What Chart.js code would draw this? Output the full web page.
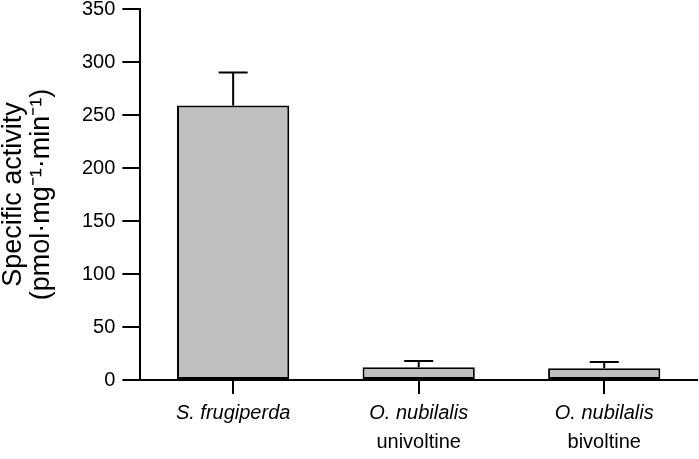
<!DOCTYPE html>
<html lang="en">
<head>
  <meta charset="UTF-8" />
  <title>Specific activity</title>
  <script src="https://cdn.jsdelivr.net/npm/chart.js"></script>
  <style>
    body { margin: 0; background: #fff; }
    #wrap { width: 699px; height: 459px; }
  </style>
</head>
<body>
  <div id="wrap"><canvas id="chart"></canvas></div>

  <script>
    // data
    const species = ['S. frugiperda', 'O. nubilalis', 'O. nubilalis'];
    const strains = ['', 'univoltine', 'bivoltine'];
    const activity = [259, 12, 11];
    const errorTop = [290, 18, 17];
    const yTicks = [0, 50, 100, 150, 200, 250, 300, 350];

    const FONT = '"Liberation Sans", Arial, sans-serif';

    // upper whiskers only, like the original
    const errorBars = {
      id: 'errorBars',
      afterDatasetsDraw(chart) {
        const c = chart.ctx;
        const y = chart.scales.y;
        const meta = chart.getDatasetMeta(0);
        c.save();
        c.strokeStyle = '#000';
        c.lineWidth = 2;
        meta.data.forEach((bar, i) => {
          const top = y.getPixelForValue(errorTop[i]);
          c.beginPath();
          c.moveTo(bar.x, bar.y);
          c.lineTo(bar.x, top);
          c.moveTo(bar.x - 14.5, top);
          c.lineTo(bar.x + 14.5, top);
          c.stroke();
        });
        c.restore();
      }
    };

    const ctx = document.getElementById('chart').getContext('2d');
    const chart = new Chart(ctx, {
      type: 'bar',
      data: {
        labels: species,
        datasets: [{
          data: activity,
          backgroundColor: '#c0c0c0',
          borderColor: '#000',
          borderWidth: 2,
          borderSkipped: false,
          barPercentage: 0.605,
          categoryPercentage: 1
        }]
      },
      plugins: [errorBars],
      options: {
        responsive: true,
        maintainAspectRatio: false,
        animation: false,
        layout: { padding: { top: 9, right: 2, bottom: 4, left: 0 } },
        plugins: { legend: { display: false }, tooltip: { enabled: false } },
        scales: {
          x: {
            position: 'bottom',
            afterFit(scale) { scale.height = 45; },
            border: { color: '#000', width: 2 },
            grid: { offset: false, drawOnChartArea: false, color: '#000', lineWidth: 2, tickLength: 14 },
            ticks: { color: '#000', padding: 7, font: { family: FONT, size: 20, style: 'italic' } }
          },
          x2: {
            type: 'category',
            position: 'bottom',
            labels: strains,
            offset: true,
            afterFit(scale) { scale.height = 30; },
            border: { display: false },
            grid: { display: false, drawTicks: false },
            ticks: { color: '#000', padding: 5, font: { family: FONT, size: 20 } }
          },
          y: {
            min: 0,
            max: 350,
            afterBuildTicks(scale) { scale.ticks = yTicks.map(v => ({ value: v })); },
            afterFit(scale) { scale.paddingTop = 0; },
            border: { color: '#000', width: 2 },
            grid: { drawOnChartArea: false, color: '#000', lineWidth: 2, tickLength: 18 },
            ticks: { color: '#000', padding: 7, font: { family: FONT, size: 20 } },
            title: {
              display: true,
              text: ['Specific activity', '(pmol\u00B7mg\u207B\u00B9\u00B7min\u207B\u00B9)'],
              color: '#000',
              font: { family: FONT, size: 27, lineHeight: '28px' },
              padding: { top: 0, bottom: 19 }
            }
          }
        }
      }
    });
  </script>
</body>
</html>
